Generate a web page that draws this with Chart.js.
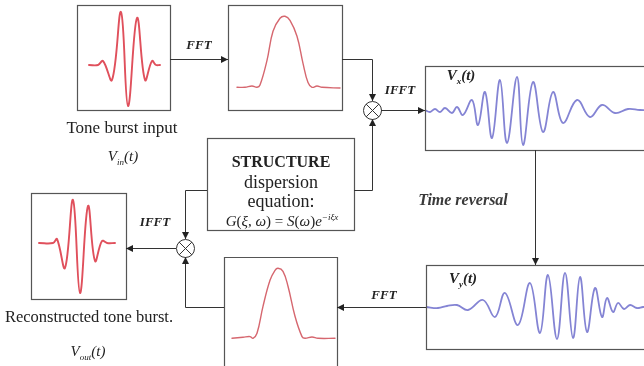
<!DOCTYPE html>
<html>
<head>
<meta charset="utf-8">
<script src="https://cdn.jsdelivr.net/npm/chart.js@4/dist/chart.umd.min.js"></script>
<style>
  html, body { margin: 0; padding: 0; background: #fff; }
  body { width: 644px; height: 366px; position: relative; overflow: hidden; font-family: "Liberation Serif", "DejaVu Serif", serif; color: #222; }
  canvas { position: absolute; }
  svg { position: absolute; left: 0; top: 0; }
  .t { position: absolute; transform: translate(-50%, -50%); white-space: nowrap; }
  .lbl { font-weight: bold; font-style: italic; font-size: 13px; }
  .cap { font-size: 17px; }
  .v { font-style: italic; font-size: 15px; }
  .v sub { font-size: 9px; }
</style>
</head>
<body>

<canvas id="toneIn" width="93" height="105" style="left:77px;top:5px"></canvas>
<canvas id="specTop" width="114" height="105" style="left:228px;top:5px"></canvas>
<canvas id="vx" width="225" height="84" style="left:425px;top:66px"></canvas>
<canvas id="vy" width="224" height="84" style="left:426px;top:265px"></canvas>
<canvas id="specBot" width="113" height="103" style="left:224px;top:257px"></canvas>
<canvas id="toneOut" width="95" height="106" style="left:31px;top:193px"></canvas>

<svg width="644" height="366">
  <defs>
    <marker id="ah" viewBox="0 0 10 10" refX="10" refY="5" markerWidth="7" markerHeight="7" orient="auto" markerUnits="userSpaceOnUse">
      <path d="M0,0 L10,5 L0,10 z" fill="#222"/>
    </marker>
  </defs>
  <g fill="none" stroke="#555" stroke-width="1.2">
    <rect x="77.5" y="5.5" width="93" height="105"/>
    <rect x="228.5" y="5.5" width="114" height="105"/>
    <rect x="425.5" y="66.5" width="240" height="84"/>
    <rect x="426.5" y="265.5" width="240" height="84"/>
    <path d="M224.5,366 V257.5 H337.5 V366"/>
    <rect x="31.5" y="193.5" width="95" height="106"/>
    <rect x="207.5" y="138.5" width="147" height="92"/>
  </g>
  <g fill="none" stroke="#333" stroke-width="1">
    <path d="M170,59.5 H228" marker-end="url(#ah)"/>
    <path d="M342,59.5 H372.5 V101" marker-end="url(#ah)"/>
    <path d="M381,110.5 H425" marker-end="url(#ah)"/>
    <path d="M354,190.5 H372.5 V119" marker-end="url(#ah)"/>
    <path d="M535.5,150 V265" marker-end="url(#ah)"/>
    <path d="M426,307.5 H337" marker-end="url(#ah)"/>
    <path d="M224,307.5 H185.5 V257" marker-end="url(#ah)"/>
    <path d="M207,190.5 H185.5 V239" marker-end="url(#ah)"/>
    <path d="M176,248.5 H126" marker-end="url(#ah)"/>
    <circle cx="372.5" cy="110.5" r="9"/>
    <path d="M366.1,104.1 L378.9,116.9 M378.9,104.1 L366.1,116.9"/>
    <circle cx="185.5" cy="248.5" r="9"/>
    <path d="M179.1,242.1 L191.9,254.9 M191.9,242.1 L179.1,254.9"/>
  </g>
</svg>

<div class="t lbl" style="left:199px;top:45px">FFT</div>
<div class="t lbl" style="left:400px;top:90px">IFFT</div>
<div class="t lbl" style="left:155px;top:222px">IFFT</div>
<div class="t lbl" style="left:384px;top:295px">FFT</div>
<div class="t" style="left:463px;top:200px;font-style:italic;font-weight:bold;font-size:16px;color:#3a3a3a">Time reversal</div>
<div class="t cap" style="left:122px;top:128px">Tone burst input</div>
<div class="t v" style="left:123px;top:157px">V<sub>in</sub>(t)</div>
<div class="t cap" style="left:89px;top:317px;font-size:16.5px">Reconstructed tone burst.</div>
<div class="t v" style="left:88px;top:352px">V<sub>out</sub>(t)</div>
<div class="t v" style="left:461px;top:76px;font-weight:bold">V<sub>x</sub>(t)</div>
<div class="t v" style="left:463px;top:279px;font-weight:bold">V<sub>y</sub>(t)</div>
<div class="t" style="left:281px;top:162px;font-weight:bold;font-size:16px">STRUCTURE</div>
<div class="t" style="left:281px;top:182px;font-size:18px">dispersion</div>
<div class="t" style="left:281px;top:201px;font-size:18px">equation:</div>
<div class="t" style="left:282px;top:221px;font-size:15px"><i>G</i>(<i>ξ</i>, <i>ω</i>) = <i>S</i>(<i>ω</i>)<i>e</i><sup style="font-size:9px"><i>−iξx</i></sup></div>

<script>
// tone burst input V_in(t)
const toneInT = [12, 21, 26, 35, 44, 51, 60, 68, 75, 79, 83];
const toneInV = [0, 0, 4, -15, 53, -41, 47, -15, 4, 0, 0];

// FFT spectrum of the input
const specTopF = [9, 17, 24, 29, 32, 39, 45, 52, 57, 62, 69, 75, 80, 84, 89, 94, 112];
const specTopA = [0, 0, 1.3, 0, 2.3, 27, 56, 69, 71, 67, 51, 24, 4.7, 0, 1.3, 0, -0.7];

// received signal V_x(t)
const vxT = [0, 5, 10, 15, 20, 27, 32, 38, 47, 53, 60, 67, 75, 82, 92, 98, 108, 118, 128, 138, 152, 165, 177, 190, 203, 215, 225];
const vxV = [0, -2, 1, -2, 2, -3, 3, -5, 10, -15, 18, -28, 30, -33, 33, -35, 28, -22, 18, -13, 10, -7, 5, -3, 1, 0, 0];

// time reversed V_y(t)
const vyT = [0, 12, 21, 31, 42, 57, 69, 79, 92, 104, 114, 122, 131, 139, 147, 154, 161, 169, 176, 181, 187, 192, 198, 204, 211, 217, 224];
const vyV = [-1, -2, 0, 1, -4, 6, -11, 13, -19, 23, -27, 31, -33, 33, -32, 29, -26, 18, -11, 8, -6, 3, -3, 1, -2, -1, -1];

// FFT spectrum of V_y
const specBotF = [8, 19, 26, 29, 33, 39, 46, 51, 54, 59, 64, 71, 78, 81, 88, 94, 111];
const specBotA = [0, 1, 1.7, 0, 5, 32, 58, 68, 70, 67, 52, 22, 1.7, 0, 1.3, 0, 0];

// reconstructed tone burst V_out(t)
const toneOutT = [8, 22, 26, 34, 42, 49, 57, 64, 71, 76, 84];
const toneOutV = [0, 0, 4, -25, 43, -50, 37, -18, 2, 0, 0];

function drawWave(id, xs, ys, color, width, tension, xMax, yMin, yMax) {
    const ctx = document.getElementById(id).getContext("2d");
    new Chart(ctx, {
        type: "line",
        data: {
            datasets: [{
                data: xs.map((x, i) => ({ x: x, y: ys[i] })),
                borderColor: color,
                borderWidth: width,
                pointRadius: 0,
                fill: false,
                tension: tension,
                borderJoinStyle: "round",
                borderCapStyle: "round",
            }],
        },
        options: {
            responsive: false,
            animation: false,
            events: [],
            layout: { padding: 0 },
            plugins: { legend: { display: false }, tooltip: { enabled: false } },
            scales: {
                x: { type: "linear", display: false, min: 0, max: xMax },
                y: { display: false, min: yMin, max: yMax },
            },
        },
    });
}

drawWave("toneIn", toneInT, toneInV, "#e0505c", 1.9, 0.4, 93, -45, 60);
drawWave("specTop", specTopF, specTopA, "#d6676f", 1.4, 0.4, 114, -22.7, 82.3);
drawWave("vx", vxT, vxV, "#8484d4", 1.8, 0.4, 225, -40, 44);
drawWave("vy", vyT, vyV, "#8484d4", 1.8, 0.4, 224, -43, 41);
drawWave("specBot", specBotF, specBotA, "#d6676f", 1.4, 0.4, 113, -21.7, 81.3);
drawWave("toneOut", toneOutT, toneOutV, "#e0505c", 1.9, 0.4, 95, -56, 50);
</script>
</body>
</html>
